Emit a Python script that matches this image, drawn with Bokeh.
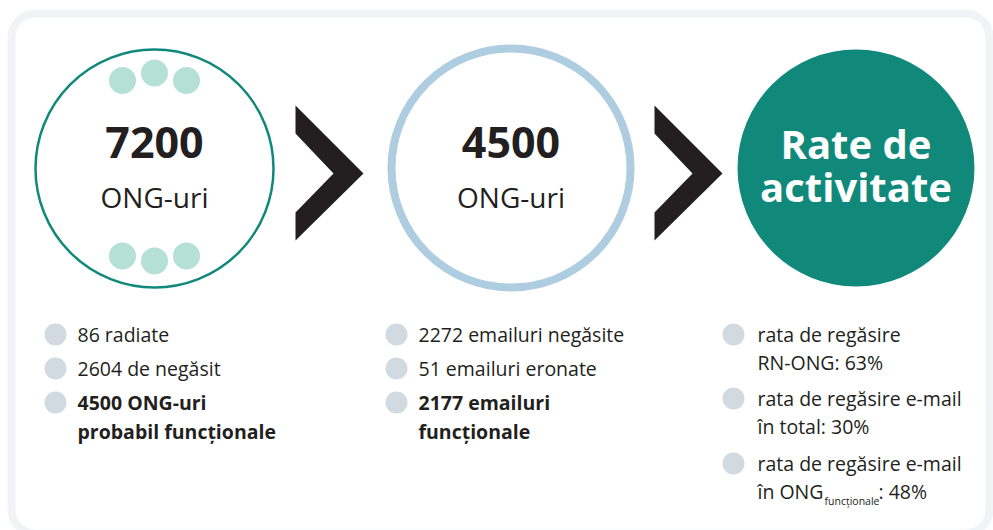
from bokeh.plotting import figure
from bokeh.models import Range1d, BoxAnnotation
from bokeh.embed import file_html
from bokeh.resources import INLINE
from bokeh.core.properties import value

# ---------------- data ----------------
stage_counts = [7200, 4500]
stage_unit = ["ONG-uri", "ONG-uri"]
result_title = ["Rate de", "activitate"]

col1_lines = [["86 radiate"], ["2604 de negăsit"], ["4500 ONG-uri", "probabil funcționale"]]
col1_bold = [False, False, True]
col2_lines = [["2272 emailuri negăsite"], ["51 emailuri eronate"], ["2177 emailuri", "funcționale"]]
col2_bold = [False, False, True]
col3_lines = [["rata de regăsire", "RN-ONG: 63%"],
              ["rata de regăsire e-mail", "în total: 30%"],
              ["rata de regăsire e-mail", "în ONG"]]
col3_subscript = "funcționale"
col3_tail = ": 48%"

# ---------------- layout / style ----------------
FONT = value("Open Sans")
DARK = "#231f20"
TEAL = "#10897b"
MINT = "#b5e1d5"
BLUE = "#aecde1"
GREY = "#d1dae0"
FIX = 0.4  # empirical baseline correction (em)

W, H = 993, 530
p = figure(width=W, height=H, x_range=Range1d(0, W), y_range=Range1d(H, 0),
           output_backend="svg", toolbar_location=None, min_border=0,
           x_axis_type=None, y_axis_type=None)
p.grid.visible = False
p.outline_line_color = None
p.background_fill_color = "white"
p.border_fill_color = "white"

# frame
p.add_layout(BoxAnnotation(left=11, right=989, top=13, bottom=533,
                           fill_alpha=0, line_color=GREY, line_width=8,
                           border_radius=24, level="underlay"))

cx = [154, 510.5, 855.5]
cy = [168, 167.5, 167.5]

# circle 1 (thin teal ring) + mint dots
p.circle(x=[cx[0]], y=[cy[0]], radius=119, fill_color=None, line_color=TEAL, line_width=2.5)
dot_dx = [-32, 0, 32]
p.circle(x=[cx[0] + d for d in dot_dx] * 2,
         y=[80, 72.5, 80, 255.5, 260.5, 255.5],
         radius=13.5, fill_color=MINT, line_color=None)
# circle 2 (thick light blue ring)
p.circle(x=[cx[1]], y=[cy[1]], radius=119.5, fill_color=None, line_color=BLUE, line_width=8)
# circle 3 (filled teal)
p.circle(x=[cx[2]], y=[cy[2]], radius=118.5, fill_color=TEAL, line_color=None)

# chevrons
chev_left = [295, 654]
chev_dx = [0, 68, 0, 0, 38, 0]
chev_dy = [-68, 0, 67, 39, 0, -40]
p.patches(xs=[[l + d for d in chev_dx] for l in chev_left],
          ys=[[173 + d for d in chev_dy] for _ in chev_left],
          fill_color=DARK, line_color=None)

def txt(xs, ys, texts, size, bold=False, align="left", color=DARK):
    p.text(x=xs, y=[y - FIX * size for y in ys], text=texts,
           text_font=FONT, text_font_size=f"{size}px",
           text_font_style="bold" if bold else "normal",
           text_align=align, text_baseline="alphabetic", text_color=color)

# big numbers
txt(cx[:2], [159, 159], [str(v) for v in stage_counts], 43, True, "center")
txt(cx[:2], [208, 208], stage_unit, 28, False, "center")
txt([cx[2], cx[2]], [159, 202], result_title, 40, True, "center", "white")

# bullet columns
BS = 19.5
def bullet_column(bx, tx, ys, lines, bolds, gap):
    p.circle(x=[bx] * len(ys), y=ys, radius=11, fill_color=GREY, line_color=None)
    for yb, ls, b in zip(ys, lines, bolds):
        txt([tx] * len(ls), [yb + 8 + gap * i for i in range(len(ls))], ls, BS, b)

bullet_column(55, 77, [334, 368, 402], col1_lines, col1_bold, 29)
bullet_column(396, 418, [334, 368, 402], col2_lines, col2_bold, 29)
col3_y = [334, 398, 463]
bullet_column(733, 757, col3_y, col3_lines, [False] * 3, 28)

# subscript part of last line
last_base = col3_y[2] + 8 + 28
txt([757 + 67], [last_base + 6], [col3_subscript], 10.5)
txt([757 + 121], [last_base], [col3_tail], BS)

open("out.html", "w").write(file_html(p, INLINE))
